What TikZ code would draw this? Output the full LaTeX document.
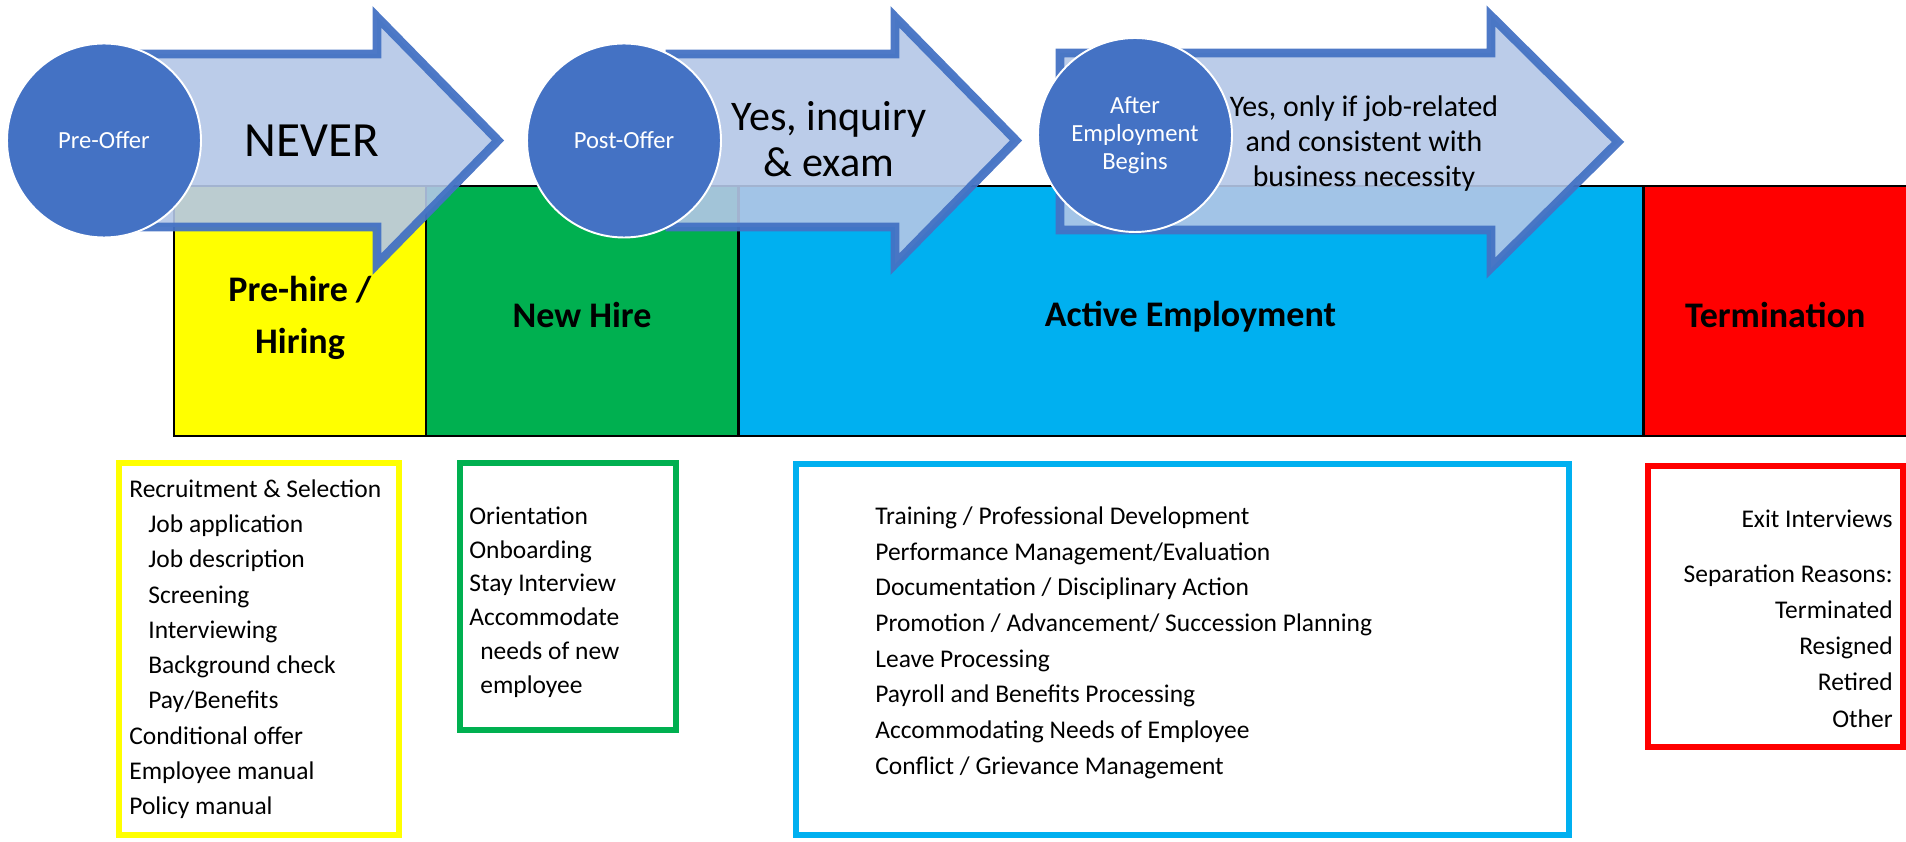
\documentclass[tikz,border=0pt]{standalone}
\usepackage{fontspec}
\setmainfont{Carlito}
\usepackage{tikz}

\definecolor{stageblue}{HTML}{4472C4}
\definecolor{arrowfill}{HTML}{B4C7E7}
\definecolor{hireyellow}{HTML}{FFFF00}
\definecolor{hiregreen}{HTML}{00B050}
\definecolor{activeblue}{HTML}{00B0F0}
\definecolor{termred}{HTML}{FF0000}

\tikzset{
	band/.style={draw=black, line width=1.7pt, minimum height=5cm, inner sep=0pt},
	bandlabel/.style={inner sep=0pt, align=center, font=\fontsize{20.5}{29.5}\selectfont\bfseries},
	stage/.style={circle, fill=stageblue, draw=white, line width=1.1pt, minimum size=3.88cm, inner sep=0pt, align=center, text=white, font=\fontsize{14}{15.9}\selectfont},
	bigarrow/.style={fill=arrowfill, fill opacity=0.9, draw=stageblue, draw opacity=0.95, line width=5pt},
	listbox/.style={line width=3.1pt},
	listtext/.style={inner sep=0pt, align=left, font=\fontsize{14.5}{20.1}\selectfont},
}

\begin{document}
\begin{tikzpicture}
		
		\useasboundingbox (0,0) rectangle (38.12,16.82);
		
		% phases
		\node[band, fill=hireyellow, minimum width=5.04cm] (prehire) at (6.0,10.6) {};
		\node[band, fill=hiregreen, minimum width=6.24cm] (newhire) at (11.64,10.6) {};
		\node[band, fill=activeblue, minimum width=18.1cm] (active) at (23.81,10.6) {};
		\node[band, fill=termred, minimum width=5.39cm] (termination) at (35.555,10.6) {};
		
		\node[bandlabel] (prehiretext) at ([yshift=-0.14cm]prehire.center) {Pre-hire /\\Hiring};
		\node[bandlabel] (newhiretext) at ([yshift=-0.08cm]newhire.center) {New Hire};
		\node[bandlabel] (activetext) at ([yshift=-0.12cm]active.center) {Active Employment};
		\node[bandlabel] (terminationtext) at ([xshift=-0.05cm,yshift=-0.08cm]termination.center) {Termination};
		
		% lists under the phases
		\draw[listbox, draw=hireyellow] (2.38,7.56) rectangle (7.98,0.12);
		\draw[listbox, draw=hiregreen] (9.2,7.56) rectangle (13.52,2.22);
		\draw[listbox, draw=activeblue] (15.92,7.54) rectangle (31.38,0.12);
		\draw[listbox, draw=termred] (32.96,7.5) rectangle (38.06,1.88);
		
		\node[listtext, anchor=north west] (prelist) at (2.58,7.24) {Recruitment \& Selection\\
			\hspace*{0.38cm}Job application\\
			\hspace*{0.38cm}Job description\\
			\hspace*{0.38cm}Screening\\
			\hspace*{0.38cm}Interviewing\\
			\hspace*{0.38cm}Background check\\
			\hspace*{0.38cm}Pay/Benefits\\
			Conditional offer\\
			Employee manual\\
			Policy manual};
		\node[listtext, anchor=north west, font=\fontsize{14.5}{19.2}\selectfont] (newlist) at (9.38,6.69) {Orientation\\
			Onboarding\\
			Stay Interview\\
			Accommodate\\
			\hspace*{0.22cm}needs of new\\
			\hspace*{0.22cm}employee};
		\node[listtext, anchor=north west, font=\fontsize{14.5}{20.3}\selectfont] (activelist) at (17.5,6.69) {Training / Professional Development\\
			Performance Management/Evaluation\\
			Documentation / Disciplinary Action\\
			Promotion / Advancement/ Succession Planning\\
			Leave Processing\\
			Payroll and Benefits Processing\\
			Accommodating Needs of Employee\\
			Conflict / Grievance Management};
		\node[listtext, anchor=north east, align=right, font=\fontsize{14.5}{20.5}\selectfont] (termlist) at (37.86,6.62) {Exit Interviews\\[0.38cm]
			Separation Reasons:\\
			Terminated\\
			Resigned\\
			Retired\\
			Other};
		
		% arrows between the stages
		\draw[bigarrow] (2.8,15.74) -- (7.54,15.74) -- (7.54,16.48) -- (9.96,14.01) -- (7.54,11.54) -- (7.54,12.28) -- (2.8,12.28) -- cycle;
		\draw[bigarrow] (13.4,15.74) -- (17.9,15.74) -- (17.9,16.48) -- (20.32,14.01) -- (17.9,11.54) -- (17.9,12.28) -- (13.4,12.28) -- cycle;
		\draw[bigarrow] (21.2,15.76) -- (29.82,15.76) -- (29.82,16.5) -- (32.36,13.98) -- (29.82,11.46) -- (29.82,12.22) -- (21.2,12.22) -- cycle;
		
		\node[font=\fontsize{28}{32}\selectfont] (never) at (6.24,14.0) {NEVER};
		\node[align=center, font=\fontsize{24}{26}\selectfont] (inquiry) at (16.58,14.04) {Yes, inquiry\\\& exam};
		\node[align=center, font=\fontsize{17}{19.8}\selectfont] (jobrelated) at (27.28,13.95) {Yes, only if job-related\\and consistent with\\business necessity};
		
		% stages
		\node[stage] (preoffer) at (2.08,14.01) {Pre-Offer};
		\node[stage] (postoffer) at (12.48,14.01) {Post-Offer};
		\node[stage] (afterbegin) at (22.70,14.12) {After\\Employment\\Begins};
		
\end{tikzpicture}
\end{document}
